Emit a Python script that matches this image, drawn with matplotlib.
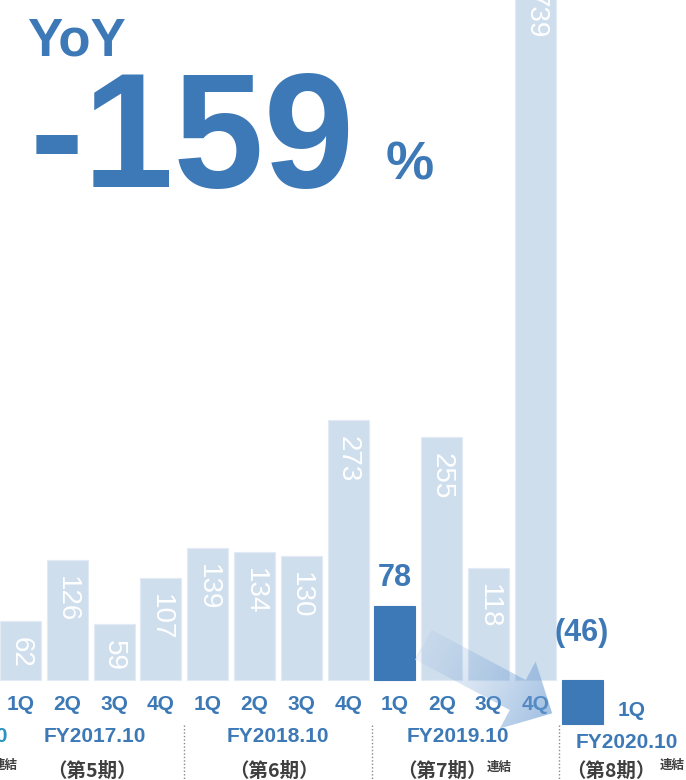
import numpy as np
import matplotlib.pyplot as plt
from matplotlib.patches import Polygon

BLUE = '#3d79b6'
PALE = '#cfdeed'
GREY = '#3f3f3f'
LATIN = ['Liberation Sans', 'DejaVu Sans']
NARROW = ['Liberation Sans Narrow', 'Liberation Sans', 'DejaVu Sans']
CJK = ['Noto Sans CJK JP', 'DejaVu Sans']

# quarterly operating profit (million yen), FY2017.10 1Q .. FY2020.10 1Q
quarters = ['1Q', '2Q', '3Q', '4Q'] * 3 + ['1Q']
values = [62, 126, 59, 107, 139, 134, 130, 273, 78, 255, 118, 739, -46]
dark = [8, 12]
years = ['FY2017.10', 'FY2018.10', 'FY2019.10', 'FY2020.10']
terms = ['（第5期）', '（第6期）', '（第7期）', '（第8期）']
yoy = '-159'

fig = plt.figure(figsize=(6.86, 7.8), dpi=100)
ax = fig.add_axes([0, 0, 1, 1])
ax.set_xlim(-0.438, 14.22)
ax.set_ylim(-105, 714)
ax.axis('off')

x = np.arange(len(values))
colors = [BLUE if i in dark else PALE for i in x]
edges = [BLUE if i in dark else '#e2ebf5' for i in x]
ax.bar(x, values, width=0.876, color=colors, edgecolor=edges, linewidth=0.8, zorder=2)

# value labels
for i, v in enumerate(values):
    if i in dark:
        txt = str(v) if v >= 0 else '(%d)' % -v
        ax.annotate(txt, (i, max(v, 0)), xytext=(0, 20 if v >= 0 else 34),
                    textcoords='offset points', ha='center', va='center',
                    color=BLUE, fontsize=22, fontweight='bold', family=LATIN, zorder=5)
    else:
        ax.annotate(str(v), (i, v), xytext=(0, -11.5), textcoords='offset points',
                    ha='center', va='top', rotation=-90, color='white',
                    fontsize=20, family=NARROW, zorder=5, annotation_clip=False)

# quarter labels
for i, q in enumerate(quarters):
    off = (36, -22) if i == 12 else (0, -18)
    ax.annotate(q, (i, 0), xytext=off, textcoords='offset points',
                ha='center', va='center', color=BLUE, fontsize=15,
                fontweight='bold', family=LATIN)

# fiscal year / term labels
year_dx = [3, 0, -5, 32]
term_dx = [1, -3, -17, 21]
for k in range(4):
    cx = 4 * k + 1.5 if k < 3 else 12
    ax.annotate(years[k], (cx, 0), xytext=(year_dx[k], -40.5 if k < 3 else -45),
                textcoords='offset points', ha='center', va='center', color=BLUE,
                fontsize=15, fontweight='bold', family=LATIN)
    ax.annotate(terms[k], (cx, 0), xytext=(term_dx[k], -66), textcoords='offset points',
                ha='center', va='center', color=GREY, fontsize=14,
                fontweight='bold', family=CJK)

# previous year, cut at the left edge
ax.annotate('FY2016.10', (0, 0), xytext=(-9, -40.5), textcoords='offset points',
            ha='right', va='center', color='#2b93c4', fontsize=15,
            fontweight='bold', family=LATIN)
ax.annotate('連結', (0, 0), xytext=(-2, -61.5), textcoords='offset points',
            ha='right', va='center', color=GREY, fontsize=9, fontweight='bold', family=CJK)
for cx, dy in [(9.97, -63), (13.66, -61.5)]:
    ax.annotate('連結', (cx, 0), xytext=(0, dy), textcoords='offset points',
                ha='left', va='center', color=GREY, fontsize=9, fontweight='bold', family=CJK)

# dotted separators between fiscal years
for sx in [3.5, 7.5, 11.5]:
    ax.plot([sx, sx], [-47, -105], ls=(0, (1, 1.5)), color='#8a8a8a', lw=1, zorder=1)

# gradient arrow from 2019 1Q towards 2020 1Q
ov = fig.add_axes([0, 0, 1, 1], zorder=3)
ov.set_xlim(0, 686)
ov.set_ylim(780, 0)
ov.axis('off')
ov.patch.set_alpha(0)


def to_px(p):
    dx, dy = ax.transData.transform(p)
    return np.array([dx, 780 - dy])


start = to_px((8.61, 37))
tip = to_px((11.36, -35))
u = (tip - start) / np.linalg.norm(tip - start)
n = np.array([-u[1], u[0]])
neck = tip - u * 39
pts = [start + n * 17, neck + n * 17, neck + n * 38, tip,
       neck - n * 38, neck - n * 17, start - n * 17]
poly = Polygon(pts, closed=True, facecolor='none', edgecolor='none')
ov.add_patch(poly)

xs = np.arange(380, 600)
ys = np.arange(600, 760)
gx, gy = np.meshgrid(xs, ys)
t = ((gx - start[0]) * u[0] + (gy - start[1]) * u[1]) / np.linalg.norm(tip - start)
t = np.clip(t, 0, 1)
img = np.zeros(gx.shape + (4,))
img[..., 0], img[..., 1], img[..., 2] = 0.42, 0.61, 0.82
img[..., 3] = 0.08 + 0.55 * t ** 1.2
im = ov.imshow(img, extent=(xs[0], xs[-1] + 1, ys[-1] + 1, ys[0]), origin='upper',
               interpolation='bilinear', zorder=3)
im.set_clip_path(poly)
ov.plot([pts[0][0], pts[-1][0]], [pts[0][1], pts[-1][1]], color='#d4e2f0', lw=0.6, alpha=0.7)

# headline
fig.text(27 / 686, 1 - 55 / 780, 'YoY', color=BLUE, fontsize=38, fontweight='bold',
         family=LATIN, va='baseline', ha='left')
fig.text(30 / 686, 1 - 187 / 780, yoy, color=BLUE, fontsize=117, fontweight='bold',
         family=LATIN, va='baseline', ha='left')
fig.text(386 / 686, 1 - 180 / 780, '%', color=BLUE, fontsize=39, fontweight='bold',
         family=LATIN, va='baseline', ha='left')

fig.savefig('out.png', dpi=100, facecolor='white')
